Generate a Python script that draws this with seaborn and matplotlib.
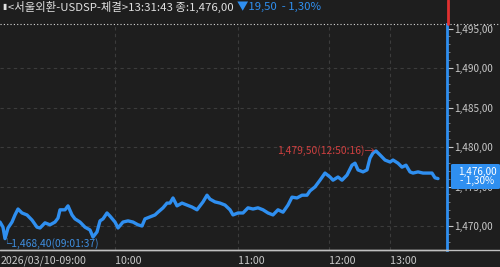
import matplotlib
matplotlib.use("Agg")
import matplotlib.pyplot as plt
from matplotlib.lines import Line2D
from matplotlib.patches import FancyBboxPatch
import seaborn as sns
import pandas as pd

# ---- data ----
tick_index = [0, 3, 5, 8, 12, 15, 18, 22, 27, 32, 37, 40, 45, 50, 55, 58, 60, 65, 68, 72,
              75, 80, 85, 90, 93, 97, 100, 103, 107, 110, 115, 118, 123, 128, 133, 138, 142,
              145, 150, 155, 158, 163, 167, 170, 173, 177, 182, 187, 192, 197, 200, 203, 207,
              210, 215, 220, 225, 230, 233, 238, 243, 248, 253, 258, 263, 268, 273, 278, 283,
              288, 292, 297, 302, 307, 310, 315, 320, 325, 330, 333, 338, 342, 347, 352, 355,
              358, 363, 367, 370, 373, 376, 380, 385, 390, 393, 398, 402, 406, 410, 413, 418,
              423, 428, 432, 435, 438]
price = [1470.50, 1469.85, 1468.40, 1469.75, 1470.50, 1471.40, 1472.15, 1471.65, 1471.40, 1470.75,
         1469.85, 1469.75, 1470.40, 1470.15, 1470.50, 1471.00, 1472.05, 1472.05, 1472.55, 1471.40,
         1470.90, 1470.50, 1469.85, 1469.50, 1468.60, 1469.25, 1470.65, 1470.90, 1471.65, 1471.25,
         1470.50, 1469.75, 1470.50, 1470.65, 1470.50, 1470.15, 1470.00, 1470.90, 1471.15, 1471.40,
         1471.75, 1472.30, 1472.90, 1472.90, 1473.55, 1472.55, 1472.90, 1472.65, 1472.40, 1472.05,
         1472.55, 1473.05, 1473.90, 1473.40, 1473.05, 1472.90, 1472.65, 1472.05, 1471.40, 1471.65,
         1471.65, 1472.30, 1472.15, 1472.30, 1472.05, 1471.65, 1471.40, 1472.05, 1471.75, 1472.65,
         1473.65, 1473.55, 1473.90, 1473.90, 1474.45, 1474.95, 1475.80, 1476.70, 1476.20, 1475.80,
         1476.20, 1475.80, 1476.45, 1477.70, 1477.95, 1477.10, 1476.85, 1477.10, 1478.60, 1479.25,
         1479.50, 1479.00, 1478.35, 1478.10, 1478.35, 1477.95, 1477.45, 1477.70, 1476.85, 1476.70,
         1476.85, 1476.70, 1476.70, 1476.70, 1476.10, 1476.00]
time_tick_pos = [1, 115, 238, 329, 390]
time_tick_labels = ["2026/03/10-09:00", "10:00", "11:00", "12:00", "13:00"]
price_ticks = [1470, 1475, 1480, 1485, 1490, 1495]
header_main = "<서울외환-USDSP-체결>13:31:43 종:1,476,00"
header_change = "▼19,50  - 1,30%"
last_price_label = "1,476,00\n- 1,30%"
last_price = 1476.00
high_label = "1,479,50(12:50:16)"
high_pos = 376
high_value = 1479.50
low_label = "1,468,40(09:01:37)"
low_pos = 5
low_value = 1468.40

df = pd.DataFrame({"idx": tick_index, "price": price})

# ---- style ----
BG = "#1e1e1e"
BLUE = "#2f8ff0"
GRID = "#3c3c3c"
TXT = "#c8c8c8"
sns.set_style("dark", {"axes.facecolor": BG, "figure.facecolor": BG})
plt.rcParams["font.family"] = ["Noto Sans CJK KR", "DejaVu Sans"]

W, H = 500, 267
fig = plt.figure(figsize=(W / 100, H / 100), dpi=100)
ax_left, ax_right, ax_top, ax_bot = 0, 447, 24, 250
ax = fig.add_axes([ax_left / W, 1 - ax_bot / H, (ax_right - ax_left) / W, (ax_bot - ax_top) / H])
ax.set_facecolor(BG)

px_per_unit = 7.9
y_top = 1470 + (226 - ax_top) / px_per_unit
y_bot = 1470 - (ax_bot - 226) / px_per_unit

# grid
for v in price_ticks[:-1]:
    ax.axhline(v, color=GRID, lw=0.8, ls=(0, (3, 3)), zorder=1)
for p in time_tick_pos[1:]:
    ax.axvline(p, color=GRID, lw=0.8, ls=(0, (3, 3)), zorder=1)

sns.lineplot(data=df, x="idx", y="price", ax=ax, color=BLUE, lw=2.4, zorder=3)

ax.set_xlim(0, ax_right - ax_left)
ax.set_ylim(y_bot, y_top)
ax.set_xlabel("")
ax.set_ylabel("")

# y axis on right
ax.yaxis.tick_right()
ax.set_yticks(price_ticks)
ax.set_yticklabels([f"{v:,.2f}".replace(".", ",") for v in price_ticks])
ax.tick_params(axis="y", direction="out", length=4, width=0.8, color=TXT, labelcolor=TXT,
               labelsize=7.2, pad=1)
ax.set_yticks([v for v in range(1467, 1496) if v % 5 != 0], minor=True)
ax.tick_params(axis="y", which="minor", direction="out", length=2, width=0.6, color="#8a8a8a", right=True)

ax.set_xticks(time_tick_pos)
ax.set_xticklabels(time_tick_labels, ha="left")
ax.tick_params(axis="x", direction="out", length=3, width=0.8, color=TXT, labelcolor=TXT,
               labelsize=7.7, pad=1)

for s in ["top", "left"]:
    ax.spines[s].set_visible(False)
ax.spines["right"].set_color(BLUE)
ax.spines["right"].set_linewidth(2)
ax.spines["bottom"].set_color("#c0c0c0")
ax.spines["bottom"].set_linewidth(1)

# full width lines in figure
fig.add_artist(Line2D([0, 1], [1 - ax_bot / H] * 2, color="#c0c0c0", lw=1))
fig.add_artist(Line2D([0, 1], [1 - ax_top / H] * 2, color="#d8d8d8", lw=0.8, ls=(0, (1, 2))))
fig.add_artist(Line2D([ax_right / W + 0.002] * 2, [1 - ax_top / H, 1], color="#e03030", lw=2))

# annotations
ax.annotate(high_label + "→", xy=(high_pos, high_value), xytext=(-1, 0), textcoords="offset points",
            ha="right", va="center", color="#d04040", fontsize=7.4, zorder=5)
ax.annotate("└" + low_label, xy=(low_pos, low_value), xytext=(-3, -4.5), textcoords="offset points",
            ha="left", va="center", color="#3f8fe0", fontsize=7.4, zorder=5)

# last price box
box_y = 1 - 176.5 / H
fig.add_artist(FancyBboxPatch((451 / W, box_y - 12.5 / H), 49 / W, 25 / H,
                              boxstyle="round,pad=0,rounding_size=0.004", fc=BLUE, ec="none", zorder=6))
fig.text(477 / W, box_y, last_price_label, color="white", fontsize=7.2, ha="center", va="center",
         linespacing=0.85, zorder=7)

# header
fig.text(2 / W, 1 - 7 / H, "▮", color="#e0e0e0", fontsize=5.5, va="center", ha="left")
fig.text(8 / W, 1 - 7 / H, header_main, color="#e0e0e0", fontsize=8.2, va="center", ha="left")
fig.text(237 / W, 1 - 7 / H, header_change, color=BLUE, fontsize=8.2, va="center", ha="left")

fig.savefig("out.png", dpi=100, facecolor=BG)
